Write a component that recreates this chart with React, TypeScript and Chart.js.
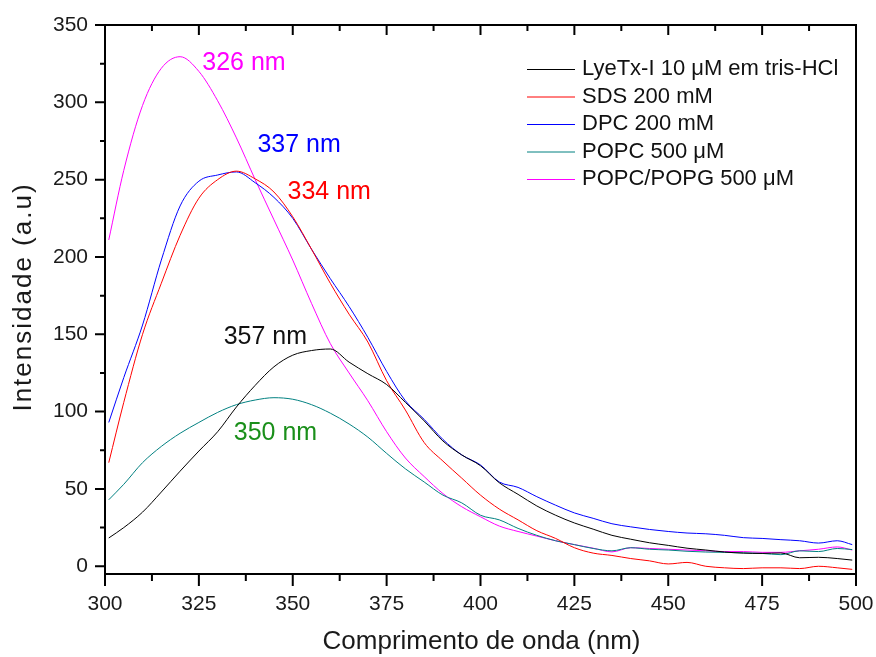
import React, { useEffect, useRef } from "react";
import { Chart, registerables } from "chart.js";

Chart.register(...registerables);

// ---- data ----
const wavelengths = [
  301, 305, 310, 315, 320, 325, 330, 335, 340, 345, 350, 355, 360, 365, 370, 375, 380, 385, 390, 395,
  400, 405, 410, 415, 420, 425, 430, 435, 440, 445, 450, 455, 460, 465, 470, 475, 480, 485, 490, 495, 499,
];

const lyetx = [
  18.3, 25, 35, 48, 61.5, 74.5, 87, 103, 117, 129, 136.5, 139.5, 140.5, 132, 124.5, 117.5, 106, 94, 81, 72,
  65, 54, 46.5, 39, 33, 28, 24, 20, 17.5, 15.2, 13.5, 11.7, 10.5, 9.2, 8.5, 8.3, 8.6, 5.5, 5.8, 5, 4,
];

const sds = [
  67, 106, 150, 183, 214, 238, 250, 255.5, 250.5, 242, 226, 205, 183, 163, 145, 120, 101, 80, 68, 57,
  46, 37, 30, 23, 18, 12, 8.5, 7, 5, 3.5, 1.5, 2.5, 0, -1, -1.5, -1, -1, -1.5, 0, -1, -2,
];

const dpc = [
  93, 122, 156, 198, 233, 249, 253, 255, 248, 238.5, 225, 205, 186, 168, 148, 126, 107, 95, 82, 72,
  65.5, 54.5, 51, 45, 39.5, 34.5, 31, 27.5, 25.5, 23.8, 22.5, 21.5, 21, 20, 18.5, 18, 17.2, 16.5, 15, 16.5, 14,
];

const popc = [
  43, 53, 67, 77.5, 86, 93, 99.5, 104.5, 107.5, 109, 108, 104.5, 99, 92, 83.5, 73, 63, 54.5, 46, 41,
  33, 30, 24.5, 20, 16.5, 14, 11.5, 10, 12, 11, 10.5, 9.7, 9.2, 9, 8.7, 8.3, 7.5, 10, 9.5, 11.5, 10.8,
];

const popcPopg = [
  211, 256, 298, 322, 329.5, 320, 301, 277, 250, 224, 198, 170, 144, 125, 107, 87, 70, 58, 47, 38.5,
  32, 26, 22.5, 19.5, 16.5, 14, 11.7, 9.3, 12, 11.5, 11, 10.5, 10, 9.5, 9.5, 9, 9, 10, 11, 12.5, 10.5,
];

const seriesValues = [lyetx, sds, dpc, popc, popcPopg];
const seriesLabels = [
  "LyeTx-I 10 \u03BCM em tris-HCl",
  "SDS 200 mM",
  "DPC 200 mM",
  "POPC 500 \u03BCM",
  "POPC/POPG 500 \u03BCM",
];
const seriesColors = ["#000000", "#ff0000", "#0000ff", "#008080", "#ff00ff"];

const xTicks = [300, 325, 350, 375, 400, 425, 450, 475, 500];
const yTicks = [0, 50, 100, 150, 200, 250, 300, 350];

const peakLabels = ["326 nm", "337 nm", "334 nm", "357 nm", "350 nm"];
const peakLabelX = [337, 351.7, 359.7, 342.7, 345.4];
const peakLabelY = [325.4, 272.4, 242, 148.4, 86.4];
const peakLabelColors = ["#ff00ff", "#0000ff", "#ff0000", "#111111", "#1a8f1a"];

const xTitle = "Comprimento de onda (nm)";
const yTitle = "Intensidade (a.u)";

const FONT = '"Liberation Sans", Arial, Helvetica, sans-serif';

const decorPlugin = {
  id: "decor",
  afterDraw(chart: any) {
    const { ctx, chartArea: a, scales } = chart;
    const xs = scales.x;
    const ys = scales.y;
    ctx.save();
    ctx.strokeStyle = "#000";
    ctx.lineWidth = 2;
    ctx.strokeRect(a.left, a.top, a.right - a.left, a.bottom - a.top);

    // x ticks: major + minor (midpoints)
    ctx.beginPath();
    for (let i = 0; i < xTicks.length; i++) {
      const px = xs.getPixelForValue(xTicks[i]);
      ctx.moveTo(px, a.bottom);
      ctx.lineTo(px, a.bottom + 12);
      ctx.moveTo(px, a.top);
      ctx.lineTo(px, a.top + 10);
      if (i < xTicks.length - 1) {
        const mx = xs.getPixelForValue((xTicks[i] + xTicks[i + 1]) / 2);
        ctx.moveTo(mx, a.bottom);
        ctx.lineTo(mx, a.bottom + 7);
        ctx.moveTo(mx, a.top);
        ctx.lineTo(mx, a.top + 6);
      }
    }
    for (let i = 0; i < yTicks.length; i++) {
      const py = ys.getPixelForValue(yTicks[i]);
      ctx.moveTo(a.left, py);
      ctx.lineTo(a.left - 10, py);
      if (i < yTicks.length - 1) {
        const my = ys.getPixelForValue((yTicks[i] + yTicks[i + 1]) / 2);
        ctx.moveTo(a.left, my);
        ctx.lineTo(a.left - 5, my);
      }
    }
    ctx.stroke();

    // axis titles
    ctx.fillStyle = "#1a1a1a";
    ctx.font = `26px ${FONT}`;
    ctx.textAlign = "center";
    ctx.textBaseline = "middle";
    ctx.fillText(xTitle, (a.left + a.right) / 2 + 1, 642);

    ctx.save();
    ctx.translate(24, 297);
    ctx.rotate(-Math.PI / 2);
    try {
      (ctx as any).letterSpacing = "2px";
    } catch (e) {}
    ctx.fillText(yTitle, 0, 0);
    ctx.restore();

    // legend
    ctx.font = `22px ${FONT}`;
    ctx.textAlign = "left";
    ctx.textBaseline = "middle";
    for (let i = 0; i < seriesLabels.length; i++) {
      const y = 69 + i * 27.5;
      ctx.strokeStyle = seriesColors[i];
      ctx.lineWidth = 1;
      ctx.beginPath();
      ctx.moveTo(527, y + 0.5);
      ctx.lineTo(575, y + 0.5);
      ctx.stroke();
      ctx.fillStyle = "#111";
      ctx.fillText(seriesLabels[i], 582, y);
    }

    // peak annotations
    ctx.font = `25px ${FONT}`;
    ctx.textAlign = "center";
    for (let i = 0; i < peakLabels.length; i++) {
      ctx.fillStyle = peakLabelColors[i];
      ctx.fillText(peakLabels[i], xs.getPixelForValue(peakLabelX[i]), ys.getPixelForValue(peakLabelY[i]));
    }
    ctx.restore();
  },
};

export default function App() {
  const ref = useRef<HTMLCanvasElement>(null);
  useEffect(() => {
    const canvas = ref.current;
    if (!canvas) return;
    const chart = new Chart(canvas, {
      type: "line",
      data: {
        datasets: seriesValues.map((vals, i) => ({
          label: seriesLabels[i],
          data: wavelengths.map((w, j) => ({ x: w, y: vals[j] })),
          borderColor: seriesColors[i],
          backgroundColor: seriesColors[i],
          borderWidth: 1,
          pointRadius: 0,
          fill: false,
          cubicInterpolationMode: "monotone",
        })),
      },
      options: {
        responsive: false,
        maintainAspectRatio: false,
        animation: false,
        events: [],
        layout: { padding: { top: 25, right: 20, left: 0, bottom: 0 } },
        plugins: { legend: { display: false }, tooltip: { enabled: false } },
        scales: {
          x: {
            type: "linear",
            min: 300,
            max: 500,
            afterBuildTicks: (s: any) => {
              s.ticks = xTicks.map((v) => ({ value: v }));
            },
            afterFit: (s: any) => {
              s.height = 83;
              s.paddingLeft = 0;
              s.paddingRight = 0;
            },
            grid: { display: false, drawTicks: false },
            border: { display: false },
            ticks: {
              font: { family: FONT, size: 21 },
              color: "#1a1a1a",
              padding: 18,
              maxRotation: 0,
              autoSkip: false,
            },
          },
          y: {
            type: "linear",
            min: -5,
            max: 350,
            afterBuildTicks: (s: any) => {
              s.ticks = yTicks.map((v) => ({ value: v }));
            },
            afterFit: (s: any) => {
              s.width = 105;
              s.paddingTop = 0;
              s.paddingBottom = 0;
            },
            grid: { display: false, drawTicks: false },
            border: { display: false },
            ticks: {
              font: { family: FONT, size: 21 },
              color: "#1a1a1a",
              padding: 17,
              autoSkip: false,
            },
          },
        },
      },
      plugins: [decorPlugin],
    });
    return () => chart.destroy();
  }, []);
  return (
    <canvas
      ref={ref}
      width={876}
      height={657}
      style={{ position: "absolute", left: 0, top: 0, width: 876, height: 657 }}
    />
  );
}
